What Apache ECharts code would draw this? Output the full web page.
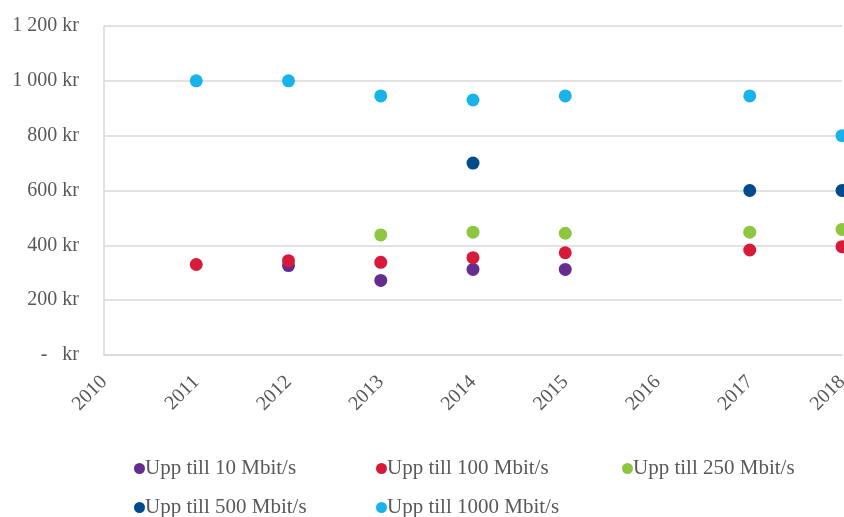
<!DOCTYPE html>
<html>
<head>
<meta charset="utf-8">
<script src="https://cdn.jsdelivr.net/npm/echarts@6/dist/echarts.min.js"></script>
<style>
  html, body { margin: 0; padding: 0; background: #fff; }
  #chart { width: 844px; height: 517px; }
</style>
</head>
<body>
<div id="chart"></div>
<script>
// Monthly price (kr) per speed tier, by year
const years = [2011, 2012, 2013, 2014, 2015, 2017, 2018];
const seriesNames = [
  'Upp till 10 Mbit/s',
  'Upp till 100 Mbit/s',
  'Upp till 250 Mbit/s',
  'Upp till 500 Mbit/s',
  'Upp till 1000 Mbit/s'
];
// null = no observation that year
const upTo10   = [null, 326, 272, 312, 312, null, null];
const upTo100  = [330, 344, 338, 355, 373, 383, 395];
const upTo250  = [null, null, 438, 448, 444, 448, 458];
const upTo500  = [null, null, null, 700, null, 600, 600];
const upTo1000 = [1000, 1000, 945, 930, 945, 945, 800];
const yTicks = [0, 200, 400, 600, 800, 1000, 1200];

const colors = ['#662D91', '#D7193A', '#8DC63F', '#004B8D', '#18B4E9'];
const values = [upTo10, upTo100, upTo250, upTo500, upTo1000];

function pairs(vals) {
  const out = [];
  vals.forEach((v, i) => { if (v !== null) out.push([years[i], v]); });
  return out;
}

function krLabel(v) {
  if (v === 0) return '-   kr';
  const s = String(v);
  return (s.length > 3 ? s.slice(0, s.length - 3) + ' ' + s.slice(-3) : s) + ' kr';
}

const font = 'Liberation Serif';
const textColor = '#595959';

const legendPos = [
  { left: 134, top: 458 },
  { left: 376, top: 458 },
  { left: 622, top: 458 },
  { left: 134, top: 497 },
  { left: 376, top: 497 }
];

const chart = echarts.init(document.getElementById('chart'));
chart.setOption({
  animation: false,
  grid: {
    left: 104, right: 2, top: 26, bottom: 162,
    containLabel: false, outerBoundsMode: 'none'
  },
  xAxis: {
    type: 'value',
    min: 2010, max: 2018, interval: 1,
    axisLine: { show: true, lineStyle: { color: '#D9D9D9', width: 1.5 } },
    axisTick: { show: false },
    splitLine: { show: false },
    axisLabel: {
      rotate: 45, margin: 24, color: textColor,
      fontFamily: font, fontSize: 20,
      formatter: v => String(v)
    }
  },
  yAxis: {
    type: 'value',
    min: 0, max: 1200, interval: 200,
    axisLine: { show: true, lineStyle: { color: '#D9D9D9', width: 1.5 } },
    axisTick: { show: false },
    splitLine: { show: true, lineStyle: { color: '#D9D9D9', width: 1.5 } },
    axisLabel: {
      margin: 25, color: textColor,
      fontFamily: font, fontSize: 20,
      formatter: v => yTicks.includes(v) ? krLabel(v) : ''
    }
  },
  legend: seriesNames.map((n, i) => ({
    data: [n],
    left: legendPos[i].left, top: legendPos[i].top,
    icon: 'circle', itemWidth: 11, itemHeight: 11, itemGap: 0,
    padding: 0,
    textStyle: { color: textColor, fontFamily: font, fontSize: 21, padding: [0, 0, 0, -5] },
    selectedMode: false
  })),
  series: seriesNames.map((n, i) => ({
    name: n,
    type: 'scatter',
    symbol: 'circle',
    symbolSize: 13,
    itemStyle: { color: colors[i], opacity: 1 },
    data: pairs(values[i]),
    z: 2 + i
  }))
});
</script>
</body>
</html>
